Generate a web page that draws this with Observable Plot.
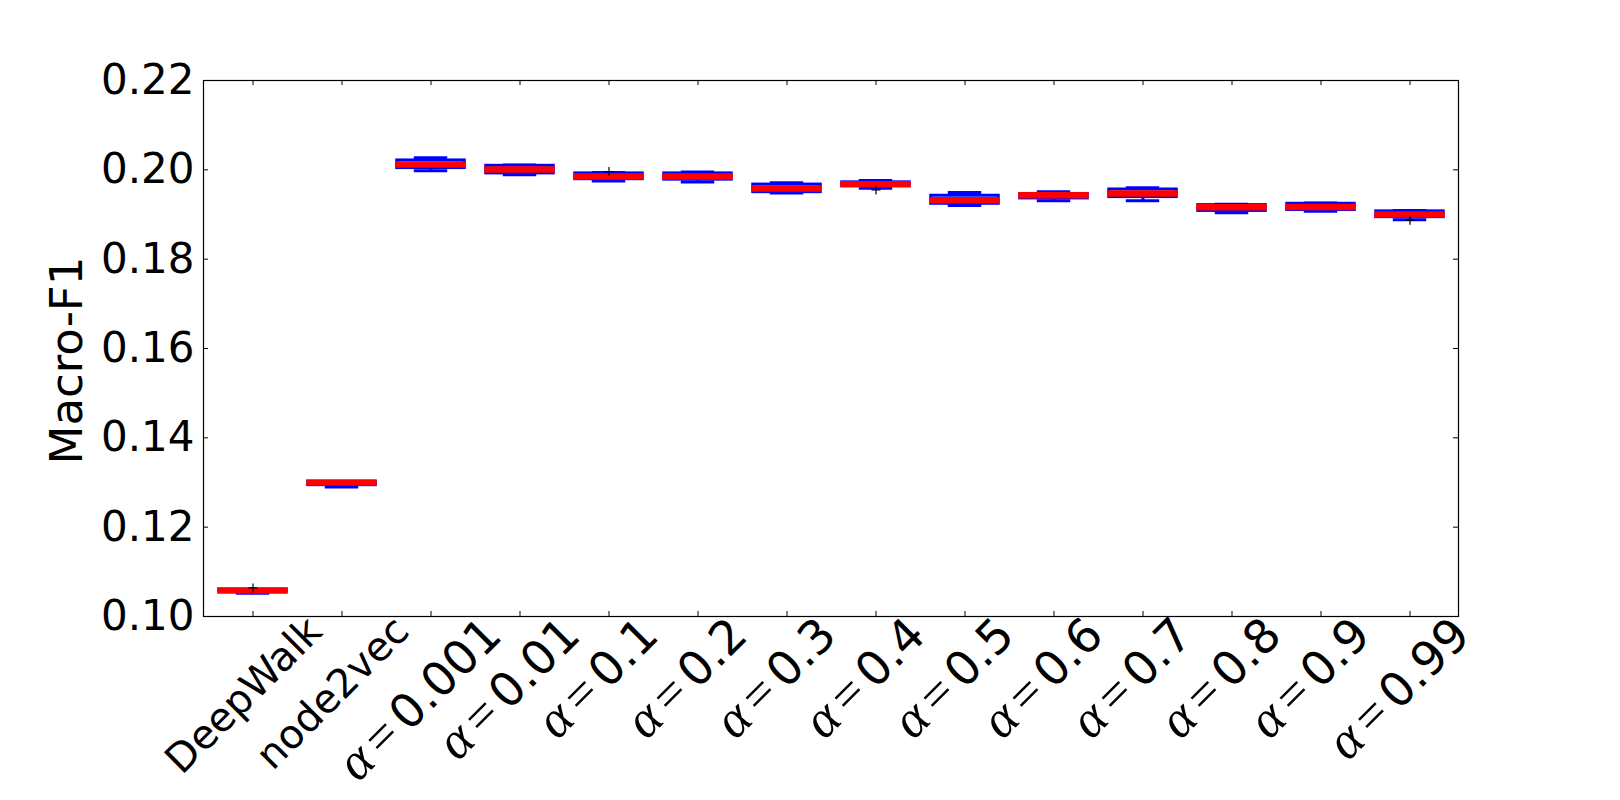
<!DOCTYPE html>
<html>
<head>
<meta charset="utf-8">
<script src="https://cdn.jsdelivr.net/npm/d3@7"></script>
<script src="https://cdn.jsdelivr.net/npm/@observablehq/plot@0.6"></script>
<style>
  html, body { margin: 0; padding: 0; background: white; }
</style>
</head>
<body>
<script>
// ---- data ----
const categories = ["DeepWalk", "node2vec", "α = 0.001", "α = 0.01", "α = 0.1", "α = 0.2", "α = 0.3",
  "α = 0.4", "α = 0.5", "α = 0.6", "α = 0.7", "α = 0.8", "α = 0.9", "α = 0.99"];
const whiskerLow  = [0.1052, 0.1290, 0.1998, 0.1989, 0.1975, 0.1973, 0.1948, 0.1959, 0.1920, 0.1931, 0.1931, 0.1904, 0.1907, 0.1888];
const q1          = [0.1056, 0.1294, 0.2004, 0.1992, 0.1979, 0.1978, 0.1950, 0.1964, 0.1924, 0.1936, 0.1939, 0.1908, 0.1910, 0.1894];
const median      = [0.1058, 0.1300, 0.2012, 0.2001, 0.1985, 0.1985, 0.1958, 0.1968, 0.1932, 0.1943, 0.1947, 0.1916, 0.1917, 0.1900];
const q3          = [0.1060, 0.1301, 0.2021, 0.2009, 0.1992, 0.1992, 0.1967, 0.1972, 0.1942, 0.1946, 0.1956, 0.1921, 0.1924, 0.1907];
const whiskerHigh = [0.1060, 0.1301, 0.2027, 0.2011, 0.1994, 0.1995, 0.1971, 0.1976, 0.1949, 0.1951, 0.1960, 0.1923, 0.1926, 0.1909];
const flierCategories = ["DeepWalk", "α = 0.1", "α = 0.4", "α = 0.99"];
const flierValues     = [0.1064, 0.1996, 0.1955, 0.1887];
const yTicks = [0.10, 0.12, 0.14, 0.16, 0.18, 0.20, 0.22];
const yLabel = "Macro-F1";

// ---- tables built from the arrays ----
const boxes = categories.map((c, i) => ({cat: c, lo: whiskerLow[i], q1: q1[i], med: median[i], q3: q3[i], hi: whiskerHigh[i]}));
const fliers = flierCategories.map((c, i) => ({cat: c, v: flierValues[i]}));

const W = 1620, H = 800;
const mL = 203, mR = 162, mT = 80, mB = 184;
const plotW = W - mL - mR, plotH = H - mT - mB;
const band = plotW / categories.length;
const boxInset = band * 0.12;
const capInset = band * 0.31;
const tickLen = 5;
const blue = "#0000ff";

const plusSymbol = {
  draw(ctx, size) {
    const r = Math.sqrt(size / Math.PI);
    ctx.moveTo(-r, 0); ctx.lineTo(r, 0);
    ctx.moveTo(0, -r); ctx.lineTo(0, r);
  }
};

const chart = Plot.plot({
  width: W, height: H,
  marginLeft: mL, marginRight: mR, marginTop: mT, marginBottom: mB,
  style: {fontFamily: "DejaVu Sans", fontSize: "40px", background: "white", color: "black"},
  x: {type: "band", domain: categories, padding: 0, axis: null},
  y: {domain: [0.10, 0.22], axis: null},
  marks: [
    // whiskers (dashed)
    Plot.ruleX(boxes, {x: "cat", y1: "q3", y2: "hi", stroke: blue, strokeWidth: 3, strokeDasharray: "6,4"}),
    Plot.ruleX(boxes, {x: "cat", y1: "lo", y2: "q1", stroke: blue, strokeWidth: 3, strokeDasharray: "6,4"}),
    // caps
    Plot.tickY(boxes, {x: "cat", y: "hi", stroke: blue, strokeWidth: 3, insetLeft: capInset, insetRight: capInset}),
    Plot.tickY(boxes, {x: "cat", y: "lo", stroke: blue, strokeWidth: 3, insetLeft: capInset, insetRight: capInset}),
    // boxes
    Plot.barY(boxes, {x: "cat", y1: "q1", y2: "q3", fill: "white", stroke: blue, strokeWidth: 3, insetLeft: boxInset, insetRight: boxInset}),
    // medians
    Plot.tickY(boxes, {x: "cat", y: "med", stroke: "#ff0000", strokeWidth: 6.5, insetLeft: boxInset - 1.5, insetRight: boxInset - 1.5}),
    // fliers
    Plot.dot(fliers, {x: "cat", y: "v", symbol: plusSymbol, r: 4.5, stroke: "black", strokeWidth: 1.2, fill: "none"}),
    // frame
    Plot.frame({stroke: "black", strokeWidth: 1.2}),
    // inward ticks
    Plot.ruleY(yTicks, {y: d => d, insetRight: plotW - tickLen, stroke: "black", strokeWidth: 1}),
    Plot.ruleY(yTicks, {y: d => d, insetLeft: plotW - tickLen, stroke: "black", strokeWidth: 1}),
    Plot.ruleX(categories, {x: d => d, insetTop: plotH - tickLen, stroke: "black", strokeWidth: 1}),
    Plot.ruleX(categories, {x: d => d, insetBottom: plotH - tickLen, stroke: "black", strokeWidth: 1}),
    // y tick labels
    Plot.axisY(yTicks, {anchor: "left", tickSize: 0, tickPadding: 9, tickFormat: d3.format(".2f"), fontSize: 42, label: null}),
    // x tick labels (positioned after render)
    Plot.text(categories, {x: d => d, frameAnchor: "bottom", rotate: -45, textAnchor: "middle", fontSize: 40, text: d => d, className: "xlab"}),
    // y label
    Plot.text([yLabel], {frameAnchor: "left", textAnchor: "middle", dx: -136, dy: 12, rotate: -90, fontSize: 45, text: d => d})
  ]
});

document.body.append(chart);

// Rich-text α labels and matplotlib-style placement (rotated bbox centred on tick, top just below axis)
const yBottom = chart.scale("y").apply(0.10);
const pad = 0.5;
d3.select(chart).selectAll(".xlab text").each(function() {
  const t = d3.select(this);
  const label = t.text();
  if (label.startsWith("α")) {
    const parts = label.split(" = ");
    t.text(null).attr("font-size", 47);
    t.append("tspan").attr("font-family", "Liberation Serif").attr("font-style", "italic").attr("font-size", 53).text(parts[0]);
    t.append("tspan").attr("dx", 7.5).attr("font-family", "Liberation Serif").attr("font-size", 51).text("=");
    t.append("tspan").attr("dx", 7.5).text(parts[1]);
  }
  const bb = this.getBBox();
  const tr = t.attr("transform") || "";
  const m = /translate\(([-\d.e]+)[ ,]+([-\d.e]+)\)/.exec(tr);
  const x = m ? +m[1] : 0;
  const half = (bb.width + bb.height) / (2 * Math.SQRT2);
  t.attr("transform", `translate(${x},${yBottom + pad + half}) rotate(-45)`);
});
</script>
</body>
</html>
